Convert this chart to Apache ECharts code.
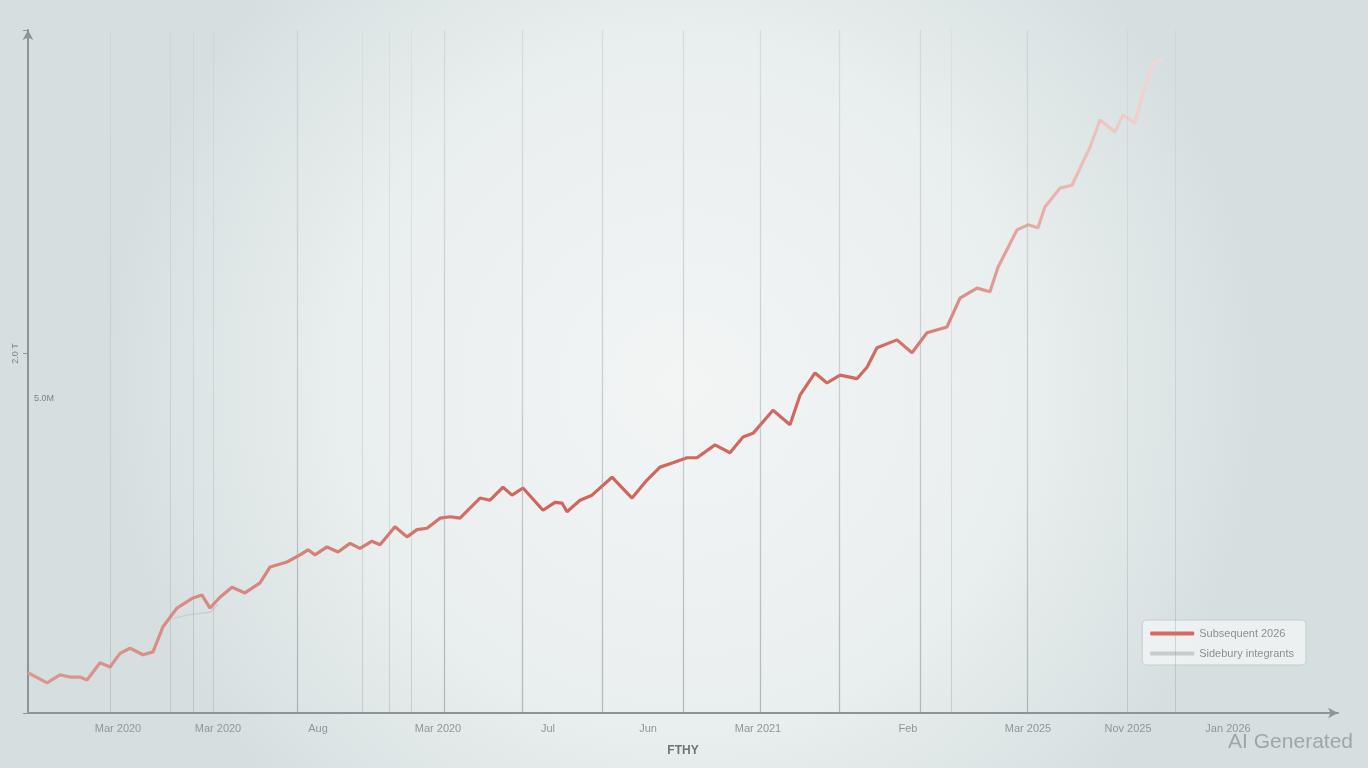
<!DOCTYPE html>
<html>
<head>
<meta charset="utf-8">
<script src="https://cdn.jsdelivr.net/npm/echarts@6/dist/echarts.min.js"></script>
<style>
html,body{margin:0;padding:0;width:1368px;height:768px;overflow:hidden;}
#chart{width:1368px;height:768px;}
</style>
</head>
<body>
<div id="chart"></div>
<script>
// ---- data ----
const trendX = [0,1.9,3.2,4.2,5.2,5.9,7.2,8.2,9.2,10.2,11.5,12.5,13.5,14.9,16.5,17.4,18.2,19.2,20.4,21.7,23.2,24.2,25.9,27.2,28.0,28.7,29.9,31.0,32.2,33.2,34.4,35.2,36.7,37.9,38.9,39.9,41.2,42.2,43.2,45.2,46.2,47.5,48.4,49.5,51.5,52.7,53.4,53.9,55.2,56.4,58.4,60.4,61.9,63.2,64.5,65.9,66.9,68.7,70.2,71.5,72.5,74.5,76.2,77.2,78.7,79.9,81.2,82.9,83.9,84.9,86.9,88.4,89.9,91.9,93.2,94.9,96.2,97.0,98.9,100.0,101.0,101.7,103.2,104.4,106.2,107.2,108.7,109.5,110.7,111.5,112.5,113.5];
const trendY = [5.6,4.2,5.3,5.0,5.0,4.6,7.0,6.4,8.3,9.0,8.1,8.5,12.0,14.6,16.0,16.4,14.6,16.1,17.5,16.7,18.1,20.3,21.0,22.0,22.7,22.0,23.1,22.4,23.6,22.9,23.9,23.4,25.9,24.5,25.5,25.7,27.1,27.3,27.1,29.9,29.6,31.4,30.3,31.3,28.2,29.3,29.2,28.0,29.6,30.3,32.8,29.9,32.4,34.2,34.8,35.5,35.5,37.3,36.2,38.4,38.9,42.1,40.1,44.2,47.3,45.9,47.0,46.5,48.1,50.8,51.9,50.1,52.9,53.7,57.7,59.1,58.6,62.0,67.2,67.9,67.5,70.4,73.0,73.4,78.7,82.5,80.8,83.2,82.1,86.2,90.4,91.1];
const refX = [14.4,16.2,18.2,19.0];
const refY = [13.1,13.7,14.0,15.1];
const strongLines = [26.9,41.6,49.4,57.4,65.5,73.2,81.1,89.2,99.9];
const faintLines = [8.2,14.2,16.5,18.5,33.4,36.1,38.3,92.3,109.9,114.7];
const xTickLabels = ['Mar 2020','Mar 2020','Aug','Mar 2020','Jul','Jun','Mar 2021','Feb','Mar 2025','Nov 2025','Jan 2026'];
const xTickIndex = [9,19,29,41,52,62,73,88,100,110,120];
const seriesNames = ['Subsequent 2026','Sidebury integrants'];
const xSlots = 132;
const yTickValue = 50;
const yTickLabel = '2.0 T';
const yInnerValue = 43.8;
const yInnerLabel = '5.0M';

// ---- build ----
const catData = [];
for (let i = 0; i < xSlots; i++) catData.push('');
xTickIndex.forEach((idx, k) => { catData[idx] = xTickLabels[k]; });
const trendData = trendX.map((x, i) => [x, trendY[i]]);
const refData = refX.map((x, i) => [x, refY[i]]);

function fadeColor(a) {
  return {type: 'linear', x: 0, y: 0, x2: 0, y2: 1, colorStops: [
    {offset: 0, color: 'rgba(150,160,163,' + (a * 0.35) + ')'},
    {offset: 1, color: 'rgba(140,150,153,' + a + ')'}
  ]};
}
const vLines = strongLines.map(v => ({xAxis: v, lineStyle: {type: 'solid', color: fadeColor(0.6), width: 1.3}}))
  .concat(faintLines.map(v => ({xAxis: v, lineStyle: {type: 'solid', color: fadeColor(0.35), width: 1}})));

const chart = echarts.init(document.getElementById('chart'));
chart.setOption({
  animation: false,
  backgroundColor: {
    type: 'radial', x: 0.5, y: 0.5, r: 0.75,
    colorStops: [{offset: 0, color: '#f3f5f5'}, {offset: 0.6, color: '#e9eeee'}, {offset: 1, color: '#d6dfe0'}]
  },
  title: {
    text: 'AI Generated', right: 10, bottom: 10,
    textStyle: {color: '#a0a6a8', fontSize: 21, fontWeight: 'normal', fontFamily: 'Liberation Sans'}
  },
  legend: {
    orient: 'vertical', right: 62, bottom: 103,
    data: [{name: seriesNames[0], icon: 'roundRect'}, {name: seriesNames[1], icon: 'rect'}],
    backgroundColor: 'rgba(240,243,243,0.85)',
    borderColor: 'rgba(196,202,204,0.9)', borderWidth: 1, borderRadius: 4,
    padding: [8, 12, 6, 8], itemGap: 9,
    itemWidth: 44, itemHeight: 4,
    textStyle: {color: '#8b9193', fontSize: 11, fontFamily: 'Liberation Sans'}
  },
  grid: {left: 28, right: 30, top: 30, bottom: 55, containLabel: false, outerBoundsMode: 'none'},
  xAxis: [
    {
      type: 'value', min: 0, max: 131,
      axisLine: {show: true, symbol: ['none', 'arrow'], symbolSize: [8, 10], lineStyle: {color: '#8c9497', width: 2}},
      axisTick: {show: false}, axisLabel: {show: false}, splitLine: {show: false},
      name: 'FTHY', nameLocation: 'middle', nameGap: 32,
      nameTextStyle: {color: '#6e7477', fontSize: 12, fontWeight: 'bold', fontFamily: 'Liberation Sans'}
    },
    {
      type: 'category', data: catData, boundaryGap: false, position: 'bottom',
      axisLine: {show: false}, axisTick: {show: false}, splitLine: {show: false},
      axisLabel: {interval: 0, color: '#90979a', fontSize: 11, margin: 10, fontFamily: 'Liberation Sans'}
    }
  ],
  yAxis: [
    {
      type: 'value', min: 0, max: 95, interval: yTickValue,
      axisLine: {show: true, symbol: ['none', 'arrow'], symbolSize: [8, 10], lineStyle: {color: '#8c9497', width: 2}},
      axisTick: {show: true, length: 5, lineStyle: {color: '#8c9497'}},
      splitLine: {show: false},
      axisLabel: {rotate: 90, margin: 8, color: '#7d8487', fontSize: 9, formatter: v => v === yTickValue ? yTickLabel : ''}
    },
    {
      type: 'value', min: 0, max: 95, interval: yInnerValue, position: 'left', offset: 0,
      axisLine: {show: false}, axisTick: {show: false}, splitLine: {show: false},
      axisLabel: {inside: true, margin: 6, color: '#7d8487', fontSize: 9,
        formatter: v => Math.abs(v - yInnerValue) < 0.01 ? yInnerLabel : ''}
    }
  ],
  series: [
    {
      name: seriesNames[0], type: 'line', xAxisIndex: 0, data: trendData,
      showSymbol: false, smooth: false,
      itemStyle: {color: '#d46a61'},
      lineStyle: {
        width: 3.2,
        color: {
          type: 'linear', x: 0, y: 0, x2: 1, y2: 0,
          colorStops: [
            {offset: 0, color: '#dc9891'}, {offset: 0.25, color: '#d98078'},
            {offset: 0.45, color: '#d0645c'}, {offset: 0.75, color: '#d26a62'},
            {offset: 0.88, color: '#e6aaa4'}, {offset: 1, color: '#f4d9d6'}
          ]
        }
      },
      markLine: {silent: true, symbol: 'none', label: {show: false}, data: vLines}
    },
    {
      name: seriesNames[1], type: 'line', xAxisIndex: 0, data: refData,
      showSymbol: false, itemStyle: {color: '#c8cccd'},
      lineStyle: {width: 1.5, color: '#cbcfd0'}
    }
  ]
});
</script>
</body>
</html>
